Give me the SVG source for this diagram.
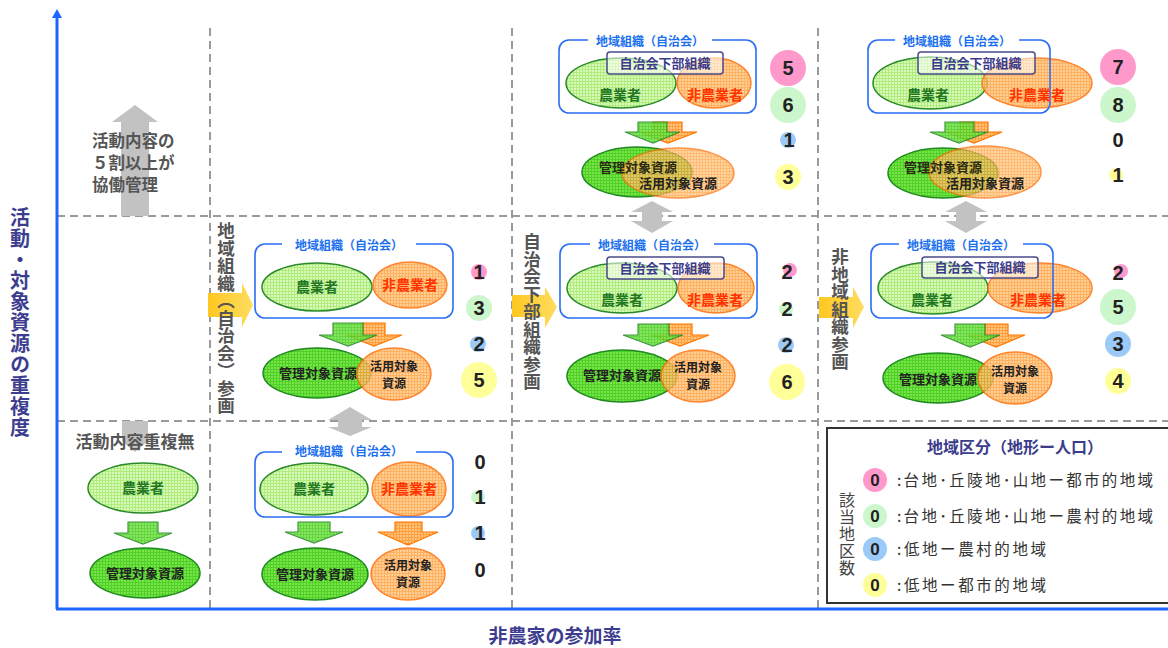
<svg xmlns="http://www.w3.org/2000/svg" width="1168" height="648" viewBox="0 0 1168 648">
<defs>
<pattern id="pLG" width="3" height="3" patternUnits="userSpaceOnUse"><rect width="3" height="3" fill="#dcf9bd"/><path d="M0 0.5H3M0.5 0V3" stroke="#aeec7c" stroke-width="1"/></pattern>
<pattern id="pG" width="3" height="3" patternUnits="userSpaceOnUse"><rect width="3" height="3" fill="#78e448"/><path d="M0 0.5H3M0.5 0V3" stroke="#4fd028" stroke-width="1"/></pattern>
<pattern id="pO" width="3" height="3" patternUnits="userSpaceOnUse"><rect width="3" height="3" fill="#ffc57e"/><path d="M0 0.5H3M0.5 0V3" stroke="#ffa040" stroke-width="1"/></pattern>
<linearGradient id="gY" x1="0" y1="0" x2="1" y2="0"><stop offset="0" stop-color="#ffc820"/><stop offset="1" stop-color="#ffdc60"/></linearGradient>
<style>
.grid{stroke:#9a9a9a;stroke-width:2;stroke-dasharray:8 5;fill:none}
.axis{stroke:#1a66ff;stroke-width:3;fill:none}
.elg{fill:url(#pLG);stroke:#2a8a2a;stroke-width:1.5}
.eg{fill:url(#pG);stroke:#1f8a1f;stroke-width:1.5}
.eo{fill:url(#pO);stroke:#ff6a00;stroke-width:1.5;opacity:0.82}
.ag{fill:url(#pG);stroke:#2a8a2a;stroke-width:1.2;opacity:0.88}
.ao{fill:url(#pO);stroke:#ff7700;stroke-width:1.2}
.gray{fill:#c2c2c2}
.yarr{fill:url(#gY)}
.box{fill:none;stroke:#2a6ef5;stroke-width:1.6}
.sub{fill:#ffffff;fill-opacity:0.55;stroke:#4a4a8a;stroke-width:1.5}
.jp{font-family:"Noto Sans CJK JP","Noto Sans CJK SC",sans-serif;font-weight:bold}
.lbl{font-size:12px;fill:#1a70ee;text-anchor:middle}
.subt{font-size:13px;fill:#3c3c8c;text-anchor:middle}
.far{font-size:14px;fill:#227722;text-anchor:middle}
.nfar{font-size:14px;fill:#ff3300;text-anchor:middle}
.res{font-size:13px;fill:#222;text-anchor:middle}
.res2{font-size:12px;fill:#222;text-anchor:middle}
.vt{writing-mode:vertical-rl;font-size:17.5px;fill:#555}
.num{font-family:"Liberation Sans",Arial,sans-serif;font-weight:bold;font-size:20px;fill:#222;text-anchor:middle}
.cp{fill:#ff99cc}.cgc{fill:#ccf7cc}.cb{fill:#9ccaf8}.cy{fill:#ffff99}
.gt{font-size:16.5px;fill:#555}
.leg{font-family:"Noto Sans CJK JP",sans-serif;font-size:15.5px;fill:#333}
</style>
</defs>
<rect width="1168" height="648" fill="#ffffff"/>

<g id="grid">
<path class="grid" d="M57 216H1168M57 421H1168M210 28V609M512 28V609M818 28V609"/>
</g>

<g id="axes">
<path class="axis" d="M57 609V16M56 609H1168"/>
<path d="M52 18L57 9L62 18Z" fill="#1a66ff"/>
<text class="jp" x="20" y="207" style="writing-mode:vertical-rl;font-size:20px;fill:#3d3d8f;letter-spacing:1px">活動・対象資源の重複度</text>
<text class="jp" x="555" y="643" style="font-size:19px;fill:#3d3d8f;text-anchor:middle">非農家の参加率</text>
</g>

<g id="top-left">
<path class="gray" d="M121 216V122H112L135 105L158 122H149V216Z"/>
<text class="jp gt" x="92" y="147">活動内容の</text>
<text class="jp gt" x="92" y="169">５割以上が</text>
<text class="jp gt" x="92" y="191">協働管理</text>
</g>

<g id="bottom-left">
<path class="gray" d="M122 421H148V441L135 452L122 441Z"/>
<text class="jp gt" x="135" y="448" text-anchor="middle" style="font-size:17px">活動内容重複無</text>
<ellipse class="elg" cx="143" cy="488" rx="55" ry="25"/>
<text class="jp far" x="143" y="493">農業者</text>
<path class="ag" d="M128 522H158V533H172L143 544L114 533H128Z"/>
<ellipse class="eg" cx="145" cy="573" rx="55" ry="25"/>
<text class="jp res" x="145" y="578">管理対象資源</text>
</g>

<g id="connectors">
<path class="gray" d="M350 407L372 420H362V427H372L350 436L328 427H338V420H328Z"/>
<path class="gray" d="M652 201L673 212H662V221H673L652 233L631 221H642V212H631Z"/>
<path class="gray" d="M966 201L987 212H976V221H987L966 233L945 221H956V212H945Z"/>
<path class="yarr" d="M208 293H242V283L253 305L242 327V317H208Z"/>
<path class="yarr" d="M512 295H545V287L557 307L545 328V317H512Z"/>
<path class="yarr" d="M819 297H853V287L864 307L853 328V318H819Z"/>
</g>

<g id="col2-row2">
<text class="jp vt" x="226" y="222">地域組織（自治会）参画</text>
<ellipse class="elg" cx="317" cy="287" rx="55" ry="24"/>
<ellipse class="eo" cx="410" cy="285" rx="37" ry="23"/>
<rect class="box" x="255" y="244" width="198" height="74" rx="10"/>
<rect x="282" y="238" width="134" height="14" fill="#fff"/>
<text class="jp lbl" x="349" y="250">地域組織（自治会）</text>
<text class="jp far" x="317" y="292">農業者</text>
<text class="jp nfar" x="410" y="290">非農業者</text>
<path class="ao" d="M363 323H385V335H402L374 346L346 335H363Z"/>
<path class="ag" d="M333 323H363V335H377L348 346L319 335H333Z"/>
<ellipse class="eg" cx="317" cy="373" rx="54" ry="25"/>
<text class="jp res" x="318" y="378">管理対象資源</text>
<ellipse class="eo" cx="394" cy="374" rx="37" ry="26"/>
<text class="jp res2" x="394" y="371">活用対象</text>
<text class="jp res2" x="394" y="388">資源</text>
<circle class="cp" cx="479" cy="272" r="8"/>
<text class="num" x="479" y="279">1</text>
<circle class="cgc" cx="479" cy="308" r="13"/>
<text class="num" x="479" y="315">3</text>
<circle class="cb" cx="478" cy="344" r="8"/>
<text class="num" x="479" y="351">2</text>
<circle class="cy" cx="479" cy="380" r="18"/>
<text class="num" x="479" y="387">5</text>
</g>

<g id="col2-row3">
<ellipse class="elg" cx="314" cy="489" rx="54" ry="26"/>
<ellipse class="eo" cx="409" cy="489" rx="37" ry="27"/>
<rect class="box" x="255" y="452" width="198" height="65" rx="10"/>
<rect x="282" y="444" width="134" height="14" fill="#fff"/>
<text class="jp lbl" x="349" y="456">地域組織（自治会）</text>
<text class="jp far" x="314" y="494">農業者</text>
<text class="jp nfar" x="409" y="494">非農業者</text>
<path class="ag" d="M298 522H330V532H343L314 543L285 532H298Z"/>
<path class="ao" d="M395 522H422V532H438L408 545L378 532H395Z"/>
<ellipse class="eg" cx="315" cy="574" rx="53" ry="26"/>
<text class="jp res" x="315" y="579">管理対象資源</text>
<ellipse class="eo" cx="408" cy="574" rx="37" ry="26"/>
<text class="jp res2" x="408" y="570">活用対象</text>
<text class="jp res2" x="408" y="587">資源</text>
<text class="num" x="480" y="469">0</text>
<circle class="cgc" cx="478" cy="497" r="7"/>
<text class="num" x="480" y="504">1</text>
<circle class="cb" cx="478" cy="533" r="7"/>
<text class="num" x="480" y="540">1</text>
<text class="num" x="480" y="577">0</text>
</g>

<g id="col3-row1">
<ellipse class="elg" cx="621" cy="83" rx="55" ry="25"/>
<ellipse class="eo" cx="714" cy="83" rx="37" ry="25"/>
<rect class="box" x="559" y="40" width="197" height="73" rx="10"/>
<rect x="588" y="33" width="124" height="14" fill="#fff"/>
<text class="jp lbl" x="650" y="46">地域組織（自治会）</text>
<rect class="sub" x="607" y="52" width="116" height="22" rx="3"/>
<text class="jp subt" x="665" y="68">自治会下部組織</text>
<text class="jp far" x="620" y="100">農業者</text>
<text class="jp nfar" x="715" y="100">非農業者</text>
<path class="ao" d="M653 122H682V132H697L668 143L639 132H653Z"/>
<path class="ag" d="M638 122H667V132H680L653 143L625 132H638Z"/>
<ellipse class="eg" cx="637" cy="172" rx="55" ry="25"/>
<ellipse class="eo" cx="678" cy="173" rx="56" ry="25" style="opacity:0.72"/>
<text class="jp res" x="638" y="172" style="fill:#2a2a12">管理対象資源</text>
<text class="jp res" x="678" y="188">活用対象資源</text>
<circle class="cp" cx="788" cy="68" r="18"/>
<text class="num" x="788" y="75">5</text>
<circle class="cgc" cx="788" cy="105" r="18"/>
<text class="num" x="788" y="112">6</text>
<circle class="cb" cx="788" cy="140" r="8"/>
<text class="num" x="789" y="147">1</text>
<circle class="cy" cx="788" cy="177" r="13"/>
<text class="num" x="788" y="184">3</text>
</g>

<g id="col3-row2">
<text class="jp vt" x="532" y="233">自治会下部組織参画</text>
<ellipse class="elg" cx="622" cy="288" rx="55" ry="25"/>
<ellipse class="eo" cx="716" cy="288" rx="38" ry="25"/>
<rect class="box" x="560" y="244" width="197" height="74" rx="10"/>
<rect x="590" y="238" width="124" height="14" fill="#fff"/>
<text class="jp lbl" x="652" y="250">地域組織（自治会）</text>
<rect class="sub" x="607" y="257" width="117" height="22" rx="3"/>
<text class="jp subt" x="665" y="273">自治会下部組織</text>
<text class="jp far" x="622" y="305">農業者</text>
<text class="jp nfar" x="715" y="305">非農業者</text>
<path class="ao" d="M668 324H692V335H709L680 346L651 335H668Z"/>
<path class="ag" d="M638 324H669V335H683L653 346L623 335H638Z"/>
<ellipse class="eg" cx="622" cy="376" rx="55" ry="26"/>
<text class="jp res" x="622" y="380">管理対象資源</text>
<ellipse class="eo" cx="698" cy="376" rx="37" ry="26"/>
<text class="jp res2" x="698" y="372">活用対象</text>
<text class="jp res2" x="698" y="389">資源</text>
<circle class="cp" cx="790" cy="270" r="7"/>
<text class="num" x="787" y="279">2</text>
<circle class="cgc" cx="786" cy="309" r="7"/>
<text class="num" x="787" y="316">2</text>
<circle class="cb" cx="786" cy="345" r="8"/>
<text class="num" x="787" y="352">2</text>
<circle class="cy" cx="787" cy="382" r="18"/>
<text class="num" x="787" y="389">6</text>
</g>

<g id="col4-row1">
<ellipse class="elg" cx="930" cy="83" rx="57" ry="26"/>
<ellipse class="eo" cx="1037" cy="83" rx="55" ry="25"/>
<rect class="box" x="868" y="40" width="182" height="73" rx="10"/>
<rect x="895" y="33" width="124" height="14" fill="#fff"/>
<text class="jp lbl" x="957" y="46">地域組織（自治会）</text>
<rect class="sub" x="918" y="52" width="117" height="22" rx="3"/>
<text class="jp subt" x="976" y="68">自治会下部組織</text>
<text class="jp far" x="928" y="100">農業者</text>
<text class="jp nfar" x="1037" y="100">非農業者</text>
<path class="ao" d="M960 122H988V132H1002L974 143L946 132H960Z"/>
<path class="ag" d="M945 122H974V132H988L959 143L930 132H945Z"/>
<ellipse class="eg" cx="943" cy="173" rx="55" ry="25"/>
<ellipse class="eo" cx="985" cy="172" rx="56" ry="26" style="opacity:0.72"/>
<text class="jp res" x="943" y="172" style="fill:#2a2a12">管理対象資源</text>
<text class="jp res" x="985" y="188">活用対象資源</text>
<circle class="cp" cx="1118" cy="67" r="18"/>
<text class="num" x="1118" y="74">7</text>
<circle class="cgc" cx="1118" cy="105" r="18"/>
<text class="num" x="1118" y="112">8</text>
<text class="num" x="1118" y="147">0</text>
<circle class="cy" cx="1116" cy="175" r="7"/>
<text class="num" x="1118" y="182">1</text>
</g>

<g id="col4-row2">
<text class="jp vt" x="840" y="248">非地域組織参画</text>
<ellipse class="elg" cx="933" cy="288" rx="55" ry="26"/>
<ellipse class="eo" cx="1040" cy="288" rx="52" ry="25"/>
<rect class="box" x="871" y="244" width="182" height="74" rx="10"/>
<rect x="899" y="238" width="124" height="14" fill="#fff"/>
<text class="jp lbl" x="961" y="250">地域組織（自治会）</text>
<rect class="sub" x="922" y="257" width="116" height="21" rx="3"/>
<text class="jp subt" x="980" y="272">自治会下部組織</text>
<text class="jp far" x="932" y="305">農業者</text>
<text class="jp nfar" x="1038" y="305">非農業者</text>
<path class="ao" d="M985 324H1008V335H1025L996 347L967 335H985Z"/>
<path class="ag" d="M955 324H985V335H1000L970 347L941 335H955Z"/>
<ellipse class="eg" cx="938" cy="378" rx="55" ry="25"/>
<text class="jp res" x="938" y="384">管理対象資源</text>
<ellipse class="eo" cx="1015" cy="378" rx="37" ry="26"/>
<text class="jp res2" x="1015" y="376">活用対象</text>
<text class="jp res2" x="1015" y="393">資源</text>
<circle class="cp" cx="1121" cy="271" r="7"/>
<text class="num" x="1118" y="280">2</text>
<circle class="cgc" cx="1118" cy="307" r="18"/>
<text class="num" x="1118" y="314">5</text>
<circle class="cb" cx="1118" cy="344" r="13"/>
<text class="num" x="1118" y="351">3</text>
<circle class="cy" cx="1118" cy="381" r="13"/>
<text class="num" x="1118" y="388">4</text>
</g>

<g id="legend">
<rect x="827" y="428" width="345" height="175" fill="#fff" stroke="#333" stroke-width="2"/>
<text class="jp" x="1015" y="453" style="font-size:16px;fill:#3c3c8c;text-anchor:middle">地域区分（地形ー人口）</text>
<text x="847" y="492" style="writing-mode:vertical-rl;font-family:'Noto Sans CJK JP',sans-serif;font-size:16px;fill:#444;letter-spacing:1px">該当地区数</text>
<circle class="cp" cx="875" cy="480" r="12"/>
<text class="num" x="875" y="486" style="font-size:17px">0</text>
<circle class="cgc" cx="875" cy="516" r="12"/>
<text class="num" x="875" y="522" style="font-size:17px">0</text>
<circle class="cb" cx="875" cy="549" r="12"/>
<text class="num" x="875" y="555" style="font-size:17px">0</text>
<circle class="cy" cx="875" cy="585" r="12"/>
<text class="num" x="875" y="591" style="font-size:17px">0</text>
<text class="leg" x="897" y="486" textLength="256" lengthAdjust="spacing">:台地･丘陵地･山地ー都市的地域</text>
<text class="leg" x="897" y="522" textLength="256" lengthAdjust="spacing">:台地･丘陵地･山地ー農村的地域</text>
<text class="leg" x="897" y="555" textLength="149" lengthAdjust="spacing">:低地ー農村的地域</text>
<text class="leg" x="897" y="591" textLength="149" lengthAdjust="spacing">:低地ー都市的地域</text>
</g>
</svg>
